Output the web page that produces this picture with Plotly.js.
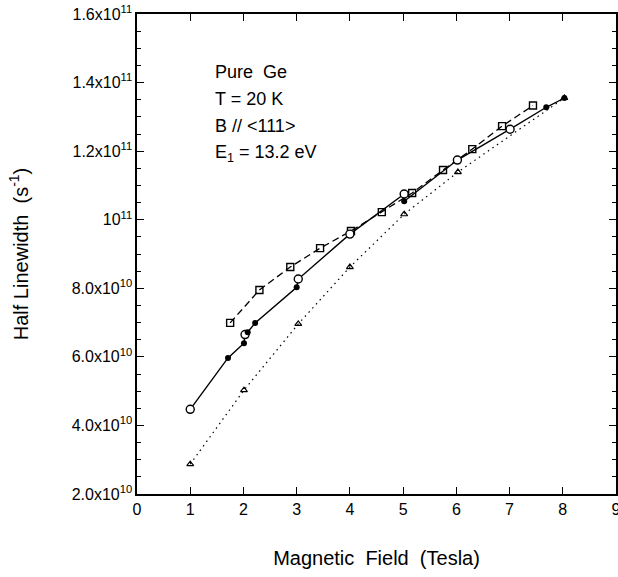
<!DOCTYPE html>
<html>
<head>
<meta charset="utf-8">
<script src="https://cdn.plot.ly/plotly-3.0.1.min.js"></script>
<style>html,body{margin:0;padding:0;background:#fff;}#chart{width:618px;height:577px;}</style>
</head>
<body>
<div id="chart"></div>
<script>
// Open squares, dashed line
const squareX = [1.75, 2.3, 2.88, 3.44, 4.02, 4.6, 5.17, 5.75, 6.3, 6.86, 7.44];
const squareY = [6.99e10, 7.95e10, 8.62e10, 9.17e10, 9.67e10, 1.022e11, 1.078e11, 1.145e11, 1.206e11, 1.273e11, 1.333e11];

// Circles on solid line (open and filled)
const circleOpenX = [1.0, 2.03, 3.03, 4.0, 5.02, 6.02, 7.01];
const circleOpenY = [4.47e10, 6.65e10, 8.27e10, 9.58e10, 1.075e11, 1.174e11, 1.264e11];
const circleFilledX = [1.71, 2.01, 2.08, 2.22, 3.0, 5.02, 7.69, 8.03];
const circleFilledY = [5.97e10, 6.4e10, 6.72e10, 6.99e10, 8.03e10, 1.054e11, 1.328e11, 1.355e11];

// Open triangles, dotted line
const triX = [1.0, 2.01, 3.03, 4.0, 5.02, 6.03, 8.03];
const triY = [2.87e10, 5.03e10, 6.96e10, 8.62e10, 1.016e11, 1.139e11, 1.355e11];

// Tick labels
const xTickVals = [0, 1, 2, 3, 4, 5, 6, 7, 8, 9];
const yTickVals = [2e10, 4e10, 6e10, 8e10, 1e11, 1.2e11, 1.4e11, 1.6e11];
const yTickText = ['2.0x10<sup>10</sup>', '4.0x10<sup>10</sup>', '6.0x10<sup>10</sup>', '8.0x10<sup>10</sup>',
  '10<sup>11</sup>', '1.2x10<sup>11</sup>', '1.4x10<sup>11</sup>', '1.6x10<sup>11</sup>'];

const infoLines = ['Pure  Ge', 'T = 20 K', 'B // &lt;111&gt;', 'E<sub>1</sub> = 13.2 eV'];

// solid line through all circles, sorted by x
const solid = circleOpenX.map((x, i) => [x, circleOpenY[i]])
  .concat(circleFilledX.map((x, i) => [x, circleFilledY[i]]))
  .sort((a, b) => a[0] - b[0]);

const traces = [
  {x: triX, y: triY, mode: 'lines+markers', line: {color: '#000', width: 1.2, dash: '1.5px,4px'},
   marker: {symbol: 'triangle-up-open', size: 6, color: '#000', line: {width: 1.2}}},
  {x: squareX, y: squareY, mode: 'lines+markers', line: {color: '#000', width: 1.3, dash: '7px,4px'},
   marker: {symbol: 'square-open', size: 7, color: '#000', line: {width: 1.4}}},
  {x: solid.map(p => p[0]), y: solid.map(p => p[1]), mode: 'lines', line: {color: '#000', width: 1.4}},
  {x: circleOpenX, y: circleOpenY, mode: 'markers',
   marker: {symbol: 'circle', size: 8, color: '#fff', line: {color: '#000', width: 1.4}}},
  {x: circleFilledX, y: circleFilledY, mode: 'markers',
   marker: {symbol: 'circle', size: 6, color: '#000'}}
];

const top0 = 0.879, step = 27 / 480;
const annotations = infoLines.map((t, i) => ({
  text: t, xref: 'paper', yref: 'paper', x: 0.158, y: top0 - i * step,
  xanchor: 'left', yanchor: 'middle', showarrow: false,
  font: {family: 'Liberation Sans, Arial, sans-serif', size: 18, color: '#000'}
}));

const layout = {
  width: 618, height: 577,
  margin: {l: 137, r: 2, t: 14, b: 83},
  paper_bgcolor: '#fff', plot_bgcolor: '#fff',
  showlegend: false,
  font: {family: 'Liberation Sans, Arial, sans-serif', color: '#000', size: 16},
  xaxis: {
    range: [0, 9], tickvals: xTickVals, ticks: 'inside', ticklen: 7, tickwidth: 1.2, tickcolor: '#000',
    showline: true, linecolor: '#000', linewidth: 1.6, mirror: 'ticks', showgrid: false, zeroline: false,
    tickfont: {size: 16}, ticklabeloverflow: 'allow',
    title: {text: 'Magnetic  Field  (Tesla)', standoff: 34, font: {size: 20}}
  },
  yaxis: {
    range: [2e10, 1.6e11], tickvals: yTickVals, ticktext: yTickText, ticks: 'inside', ticklen: 7, tickwidth: 1.2, tickcolor: '#000',
    minor: {dtick: 5e9, ticks: 'inside', ticklen: 4, tickwidth: 1, tickcolor: '#000'},
    showline: true, linecolor: '#000', linewidth: 1.6, mirror: 'ticks', showgrid: false, zeroline: false,
    tickfont: {size: 16},
    title: {text: 'Half Linewidth  (s<sup>-1</sup>)', standoff: 38, font: {size: 20}}
  },
  annotations: annotations
};

Plotly.newPlot('chart', traces, layout, {staticPlot: true, displayModeBar: false});
</script>
</body>
</html>
